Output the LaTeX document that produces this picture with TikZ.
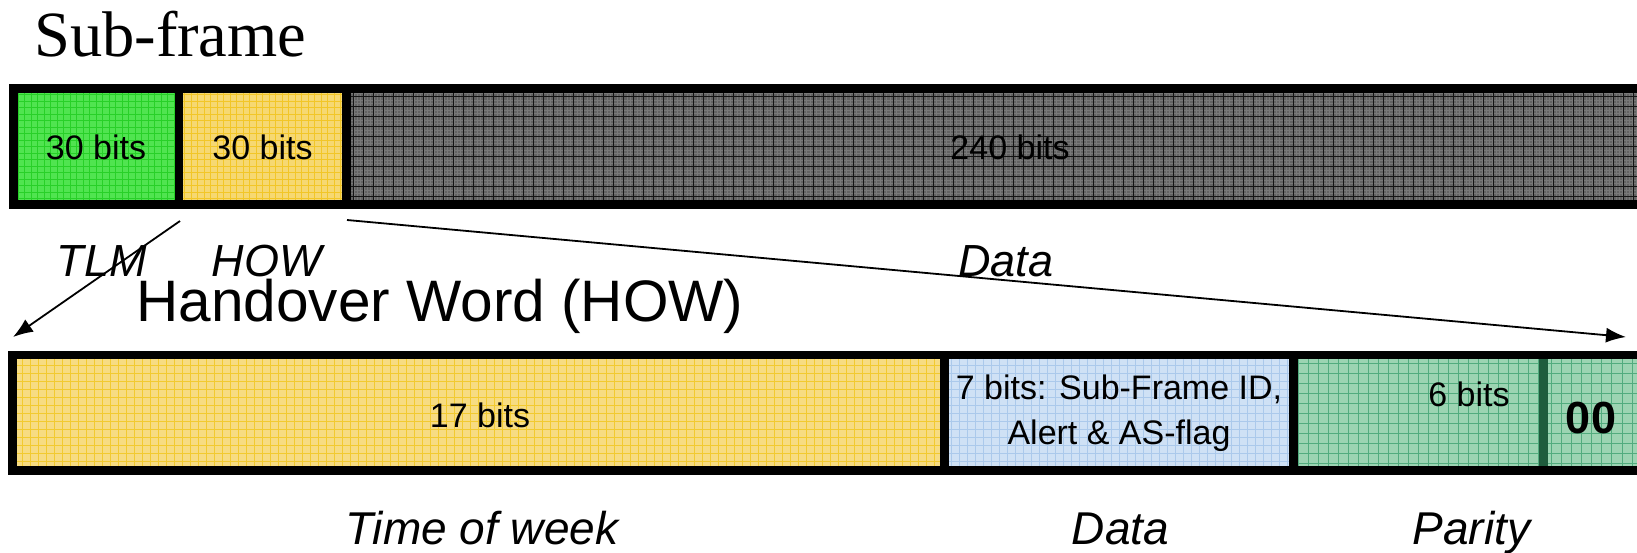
\documentclass[tikz,border=0pt]{standalone}
\usepackage{fontspec}
\setmainfont{Liberation Sans}
\newfontfamily\titleserif{Liberation Serif}
\usetikzlibrary{arrows.meta}

% fill colours and their grid-line colours
\definecolor{tlmfill}{HTML}{50E450}
\definecolor{tlmline}{HTML}{28D028}
\definecolor{howfill}{HTML}{F6D872}
\definecolor{howline}{HTML}{F2C628}
\definecolor{datafill}{HTML}{626262}
\definecolor{dataline}{HTML}{141414}
\definecolor{datafine}{HTML}{787878}
\definecolor{towfill}{HTML}{F7DC82}
\definecolor{towline}{HTML}{F2CA30}
\definecolor{idfill}{HTML}{CFE1F5}
\definecolor{idline}{HTML}{ABC9EB}
\definecolor{parfill}{HTML}{9CD4B2}
\definecolor{parline}{HTML}{52AC7E}
\definecolor{pardiv}{HTML}{1F5C3D}

\tikzset{
  % one field of a word: coloured, textured cell with a heavy black frame
  seg/.style n args={3}{rectangle, draw=black, line width=8.6pt, fill=#1,
    inner sep=0pt, outer sep=0pt,
    path picture={
      \draw[#2, line width=0.55pt]
        (path picture bounding box.south west) grid[step=#3]
        (path picture bounding box.north east);
    }},
  fine/.style={path picture={
      \draw[datafine, line width=0.45pt]
        (path picture bounding box.south west) grid[step=3.33pt]
        (path picture bounding box.north east);
      \draw[dataline, line width=0.9pt]
        (path picture bounding box.south west) grid[step=10pt]
        (path picture bounding box.north east);
    }},
  bits/.style={anchor=base, inner sep=0pt, font=\fontsize{34}{45}\selectfont},
  tag/.style={anchor=base, inner sep=0pt, font=\fontsize{45}{50}\selectfont\itshape},
  conn/.style={line width=1.8pt, -{Latex[length=20pt,width=15pt]}},
}

\begin{document}
\begin{tikzpicture}[x=1pt, y=-1pt]
\useasboundingbox (0,0) rectangle (1637,552);

% ---- sub-frame ----
\node[anchor=base west, inner sep=0pt, font=\titleserif\fontsize{64.5}{70}\selectfont]
  (title) at (34,56.7) {Sub-frame};

\node[seg={tlmfill}{tlmline}{6.5pt}, minimum width=165.7pt, minimum height=116.4pt]
  (tlm) at (96.15,146.5) {};
\node[seg={howfill}{howline}{6.5pt}, minimum width=167.3pt, minimum height=116.4pt]
  (how) at (262.65,146.5) {};
\node[seg={datafill}{dataline}{10pt}, fine, minimum width=1353.7pt, minimum height=116.4pt]
  (data) at (1023.15,146.5) {};

\node[bits] (tlmbits)  at (96,159.3)  {30 bits};
\node[bits] (howbits)  at (262.5,159.3) {30 bits};
\node[bits] (databits) at (1010,159.3) {240 bits};

\node[tag] (tlmtag)  at (101.7,276.7) {TLM};
\node[tag] (howtag)  at (266.5,276.7) {HOW};
\node[tag] (datatag) at (1006,276.7) {Data};

% ---- handover word ----
\node[anchor=base, inner sep=0pt, font=\fontsize{58.5}{64}\selectfont]
  (howtitle) at (440,321.7) {Handover Word (HOW)};

\node[seg={towfill}{towline}{8pt}, minimum width=931.8pt, minimum height=115.7pt]
  (tow) at (478.6,412.85) {};
\node[seg={idfill}{idline}{8pt}, minimum width=349.2pt, minimum height=115.7pt]
  (sfid) at (1119.1,412.85) {};
\node[seg={parfill}{parline}{10pt}, minimum width=249.8pt, minimum height=115.7pt]
  (parity) at (1418.6,412.85) {};
\node[seg={parfill}{parline}{10pt}, minimum width=156.5pt, minimum height=115.7pt]
  (zeros) at (1621.75,412.85) {};
\node[rectangle, fill=pardiv, inner sep=0pt, minimum width=9pt, minimum height=107.1pt]
  (pdiv) at (1543.5,412.85) {};

\node[bits] (towbits) at (480,427) {17 bits};
\node[bits, anchor=center, align=center] (sfidbits) at (1119,413.5)
  {7 bits: Sub-Frame ID,\\Alert \& AS-flag};
\node[bits] (parbits) at (1469,406) {6 bits};
\node[bits, font=\fontsize{45}{48}\selectfont\bfseries] (zerobits) at (1591,433) {00};

\node[tag, font=\fontsize{46}{50}\selectfont\itshape] (towtag) at (481.7,544) {Time of week};
\node[tag, font=\fontsize{46}{50}\selectfont\itshape] (sfidtag) at (1120.5,544) {Data};
\node[tag, font=\fontsize{46}{50}\selectfont\itshape] (partag) at (1471.5,544) {Parity};

% ---- expansion arrows ----
\coordinate (tlmfoot) at (180,221);
\coordinate (howfoot) at (347,220);
\coordinate (wordwest) at (13,337);
\coordinate (wordeast) at (1626,337);
\draw[conn] (tlmfoot) -- (wordwest);
\draw[conn] (howfoot) -- (wordeast);
\end{tikzpicture}
\end{document}
